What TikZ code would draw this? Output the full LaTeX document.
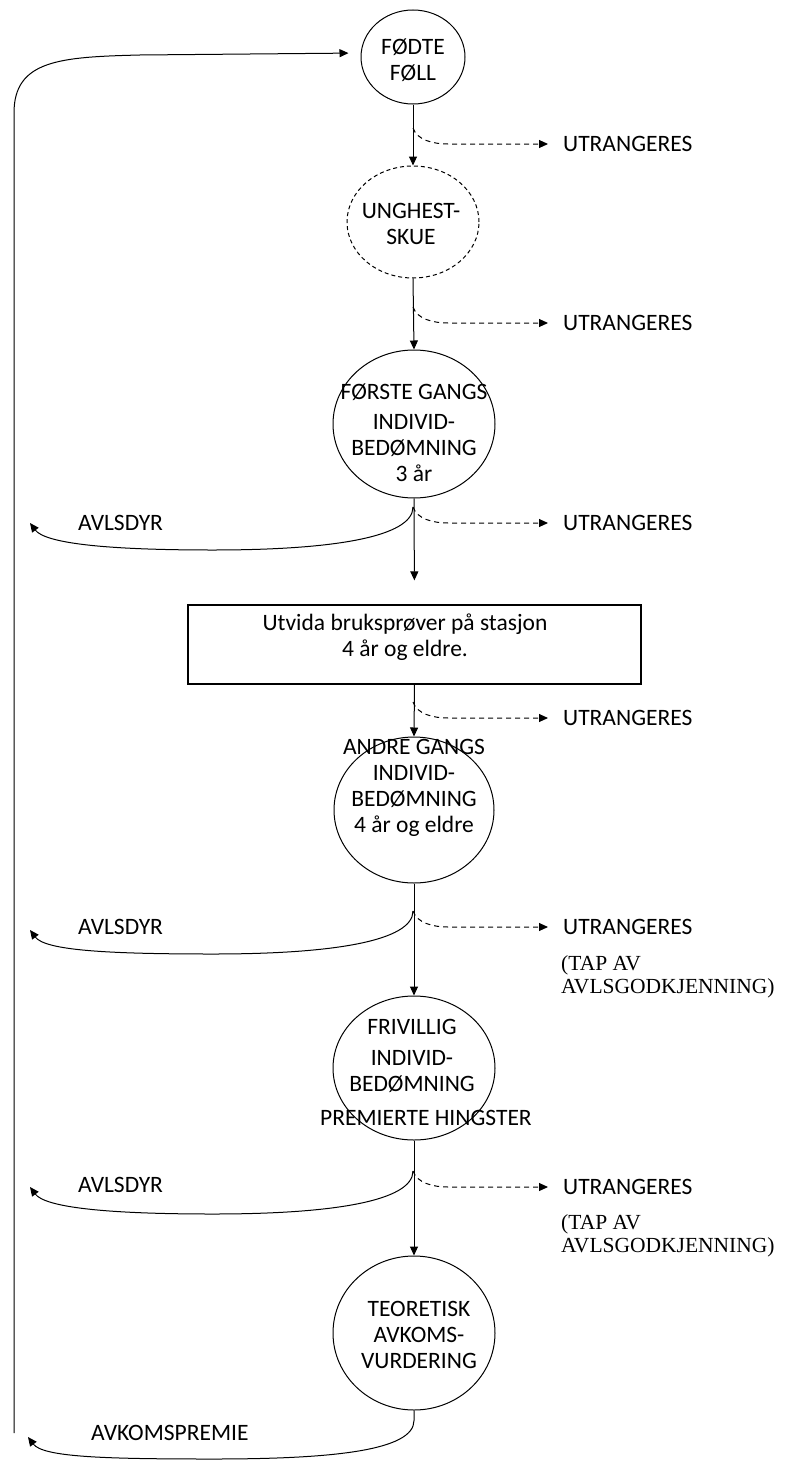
\documentclass[tikz,border=0pt]{standalone}
\usepackage{fontspec}
\setmainfont{Carlito}
\newfontfamily\tapfont{Liberation Serif}
\usetikzlibrary{arrows.meta, positioning, shapes.geometric, calc}

\begin{document}
\begin{tikzpicture}[x=1pt, y=-1pt,
  >={Triangle[length=9pt, width=8pt]},
  stage/.style={draw, ellipse, line width=1pt, inner sep=0pt},
  txt/.style={font=\fontsize{23.5}{26}\selectfont, align=center, inner sep=0pt},
  flow/.style={->, line width=1pt},
  drop/.style={->, line width=1pt, dash pattern=on 5pt off 4pt, shorten >=15pt},
  side/.style={font=\fontsize{23.5}{26}\selectfont, anchor=west, inner sep=0pt},
  tap/.style={font=\tapfont\fontsize{21.5}{23}\selectfont, align=left, anchor=west, inner sep=0pt}]
\useasboundingbox (0,0) rectangle (792,1464);
% Stages
\node[stage, minimum width=104pt, minimum height=94pt] (foll) at (413,57) {};
\node[txt] (folltxt) at (413,60) {FØDTE\\FØLL};
\node[stage, dash pattern=on 4pt off 3pt, minimum width=132pt, minimum height=112pt] (skue) at (413,222) {};
\node[txt] (skuetxt) at (411,224) {UNGHEST-\\SKUE};
\node[stage, minimum width=162pt, minimum height=148pt] (forste) at (414,424) {};
\node[txt] (forstetxt) at (414,433) {FØRSTE GANGS\\[4pt]INDIVID-\\BEDØMNING\\3 år};
\node[draw, line width=1.2pt, minimum width=453pt, minimum height=79pt, inner sep=0pt] (stasjon) at (414.5,644.5) {};
\node[txt] (stasjontxt) at (405,637) {Utvida bruksprøver på stasjon\\4 år og eldre.};
\node[stage, minimum width=160pt, minimum height=146pt] (andre) at (414,810) {};
\node[txt] (andretxt) at (414,788) {ANDRE GANGS\\INDIVID-\\BEDØMNING\\4 år og eldre};
\node[stage, minimum width=162pt, minimum height=144pt] (friv) at (414,1068) {};
\node[txt] (frivtxt) at (412,1072) {FRIVILLIG\\[5pt]INDIVID-\\BEDØMNING\\[8pt]\hspace*{28pt}PREMIERTE HINGSTER};
\node[stage, minimum width=162pt, minimum height=154pt] (teor) at (414,1333) {};
\node[txt] (teortxt) at (419,1335) {TEORETISK\\AVKOMS-\\VURDERING};

% Side labels
\node[side] (ut1) at (563,144) {UTRANGERES};
\node[side] (ut2) at (563,323) {UTRANGERES};
\node[side] (ut3) at (563,523) {UTRANGERES};
\node[side] (ut4) at (563,718) {UTRANGERES};
\node[side] (ut5) at (563,927) {UTRANGERES};
\node[side] (ut6) at (563,1187) {UTRANGERES};
\node[tap] (tap1) at (561,977) {(TAP AV\\AVLSGODKJENNING)};
\node[tap] (tap2) at (561,1236) {(TAP AV\\AVLSGODKJENNING)};
\node[side] (avl1) at (78,523) {AVLSDYR};
\node[side] (avl2) at (78,927) {AVLSDYR};
\node[side] (avl3) at (78,1185) {AVLSDYR};
\node[side] (avkom) at (91,1433) {AVKOMSPREMIE};

% Branch points and free ends
\coordinate (b1) at (413,128);
\coordinate (b2) at (413,307);
\coordinate (b3) at (413,507);
\coordinate (b4) at (413,702);
\coordinate (b5) at (413,911);
\coordinate (b6) at (413,1171);
\coordinate (av1) at (30,523);
\coordinate (av2) at (30,930);
\coordinate (av3) at (30,1187);
\coordinate (av4) at (28,1437);
\coordinate (loopfoot) at (14,1433);

% Main flow
\draw[flow] (foll.south) -- (skue.north);
\draw[flow] (skue.south) -- (forste.north);
\draw[flow, shorten >=24pt] (forste.south) -- (stasjon.north);
\draw[flow] (stasjon.south) -- (andre.north);
\draw[flow] (andre.south) -- (friv.north);
\draw[flow] (friv.south) -- (teor.north);

% Culled animals
\foreach \n in {1,...,6} {
  \draw[drop] (b\n) .. controls +(4,12) and +(-15,0) .. ++(35,16) -- (ut\n.west);
}

% Breeding animals back to the start
\foreach \b/\a in {3/1, 5/2, 6/3} {
  \draw[flow] (b\b) .. controls +(0,30) and +(120,0) .. ++(-200,43)
    .. controls +(-110,0) and +(15,20) .. (av\a);
}
\draw[flow] (teor.south) -- ++(0,10) .. controls +(0,30) and +(120,0) .. (213,1459)
  .. controls +(-110,0) and +(15,20) .. (av4);
\draw[flow, shorten >=12pt] (loopfoot) -- (14,113) .. controls (14,60) and (60,57) .. (140,55)
  -- ([yshift=4pt]foll.west);
\end{tikzpicture}
\end{document}
